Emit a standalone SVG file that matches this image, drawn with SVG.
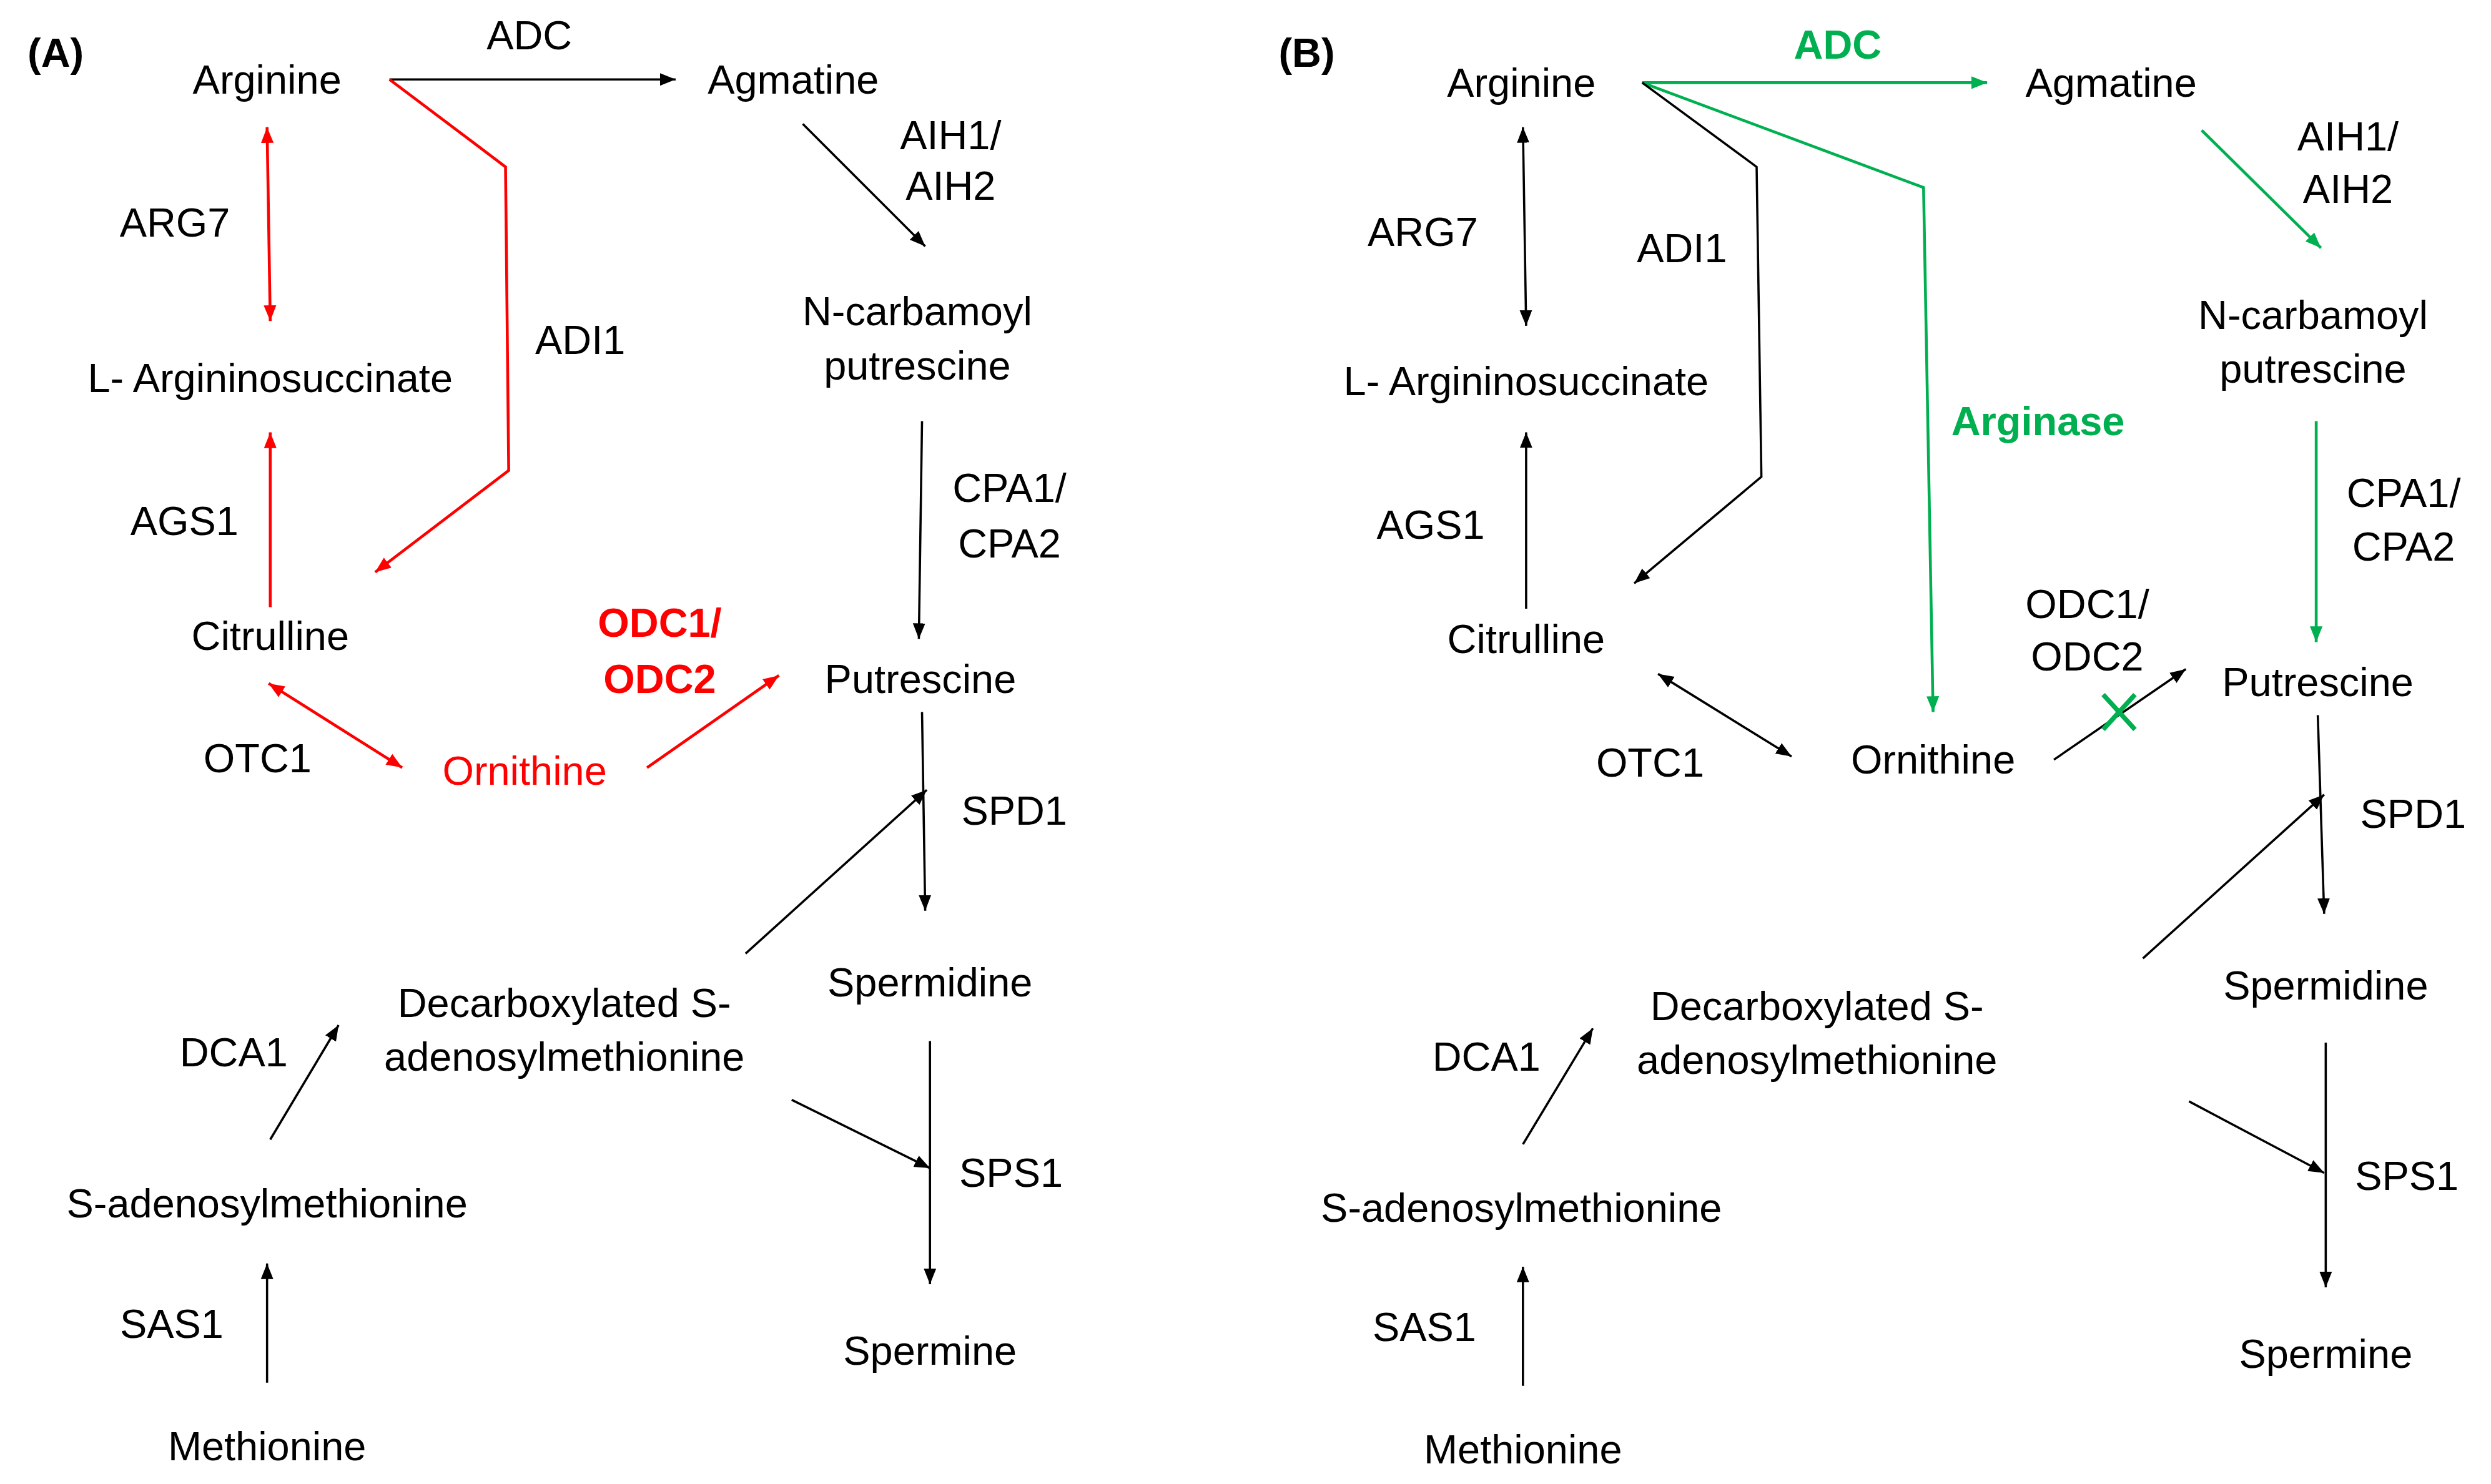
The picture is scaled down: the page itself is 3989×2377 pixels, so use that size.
<svg xmlns="http://www.w3.org/2000/svg" width="3989" height="2377" viewBox="0 0 3989 2377">
<defs>
<style>
text{font-family:"Liberation Sans",Arial,sans-serif;font-size:25.5px;text-anchor:middle;dominant-baseline:central;fill:#000}
.r{fill:#ff0000}.g{fill:#00b050}.b{font-weight:bold}
.l{fill:none;stroke:#000;stroke-width:1.4}
.lr{fill:none;stroke:#ff0000;stroke-width:1.8}
.lg{fill:none;stroke:#00b050;stroke-width:1.8}
</style>
<marker id="ak" viewBox="0 0 10 10" refX="10" refY="5" markerWidth="7" markerHeight="7" orient="auto-start-reverse" markerUnits="strokeWidth"><path d="M0,1L10,5L0,9z" fill="#000"/></marker>
<marker id="ar" viewBox="0 0 10 10" refX="10" refY="5" markerWidth="5.5" markerHeight="5.5" orient="auto-start-reverse" markerUnits="strokeWidth"><path d="M0,1L10,5L0,9z" fill="#ff0000"/></marker>
<marker id="ag" viewBox="0 0 10 10" refX="10" refY="5" markerWidth="5.5" markerHeight="5.5" orient="auto-start-reverse" markerUnits="strokeWidth"><path d="M0,1L10,5L0,9z" fill="#00b050"/></marker>
</defs>
<rect width="3989" height="2377" fill="#fff"/>
<g transform="scale(2.5457)">
<g id="connectors">
<path class="l" d="M245,50H425" marker-end="url(#ak)"/>
<path class="l" d="M505,78L582,155" marker-end="url(#ak)"/>
<path class="l" d="M580,265L578,402" marker-end="url(#ak)"/>
<path class="l" d="M580,448L582,573" marker-end="url(#ak)"/>
<path class="l" d="M585,655V808" marker-end="url(#ak)"/>
<path class="l" d="M469,600L583,497" marker-end="url(#ak)"/>
<path class="l" d="M498,692L585,735" marker-end="url(#ak)"/>
<path class="l" d="M170,717L213,645" marker-end="url(#ak)"/>
<path class="l" d="M168,870V795" marker-end="url(#ak)"/>
<path class="lr" d="M168,80L170,202" marker-start="url(#ar)" marker-end="url(#ar)"/>
<path class="lr" d="M170,382V272" marker-end="url(#ar)"/>
<path class="lr" d="M245,50L318,105L320,296L236,360" marker-end="url(#ar)"/>
<path class="lr" d="M169,430L253,483" marker-start="url(#ar)" marker-end="url(#ar)"/>
<path class="lr" d="M407,483L490,425" marker-end="url(#ar)"/>

<path class="lg" d="M1033,52H1250" marker-end="url(#ag)"/>
<path class="lg" d="M1033,52L1210,118L1216,448" marker-end="url(#ag)"/>
<path class="l" d="M1033,52L1105,105L1108,300L1028,367" marker-end="url(#ak)"/>
<path class="lg" d="M1385,82L1460,156" marker-end="url(#ag)"/>
<path class="lg" d="M1457,265V404" marker-end="url(#ag)"/>
<path class="l" d="M1292,478L1375,421" marker-end="url(#ak)"/>
<path d="M1323,437L1343,459M1343,437L1323,459" stroke="#00b050" stroke-width="3" fill="none"/>
<path class="l" d="M1043,424L1127,476" marker-start="url(#ak)" marker-end="url(#ak)"/>
<path class="l" d="M960,383V272" marker-end="url(#ak)"/>
<path class="l" d="M958,80L960,205" marker-start="url(#ak)" marker-end="url(#ak)"/>
<path class="l" d="M1458,450L1462,575" marker-end="url(#ak)"/>
<path class="l" d="M1348,603L1462,500" marker-end="url(#ak)"/>
<path class="l" d="M1377,693L1462,738" marker-end="url(#ak)"/>
<path class="l" d="M1463,656V810" marker-end="url(#ak)"/>
<path class="l" d="M958,720L1002,647" marker-end="url(#ak)"/>
<path class="l" d="M958,872V797" marker-end="url(#ak)"/>
</g>
<g id="panelA">
<text x="35" y="33" class="b">(A)</text>
<g id="a-arginine"><text x="168" y="50">Arginine</text></g>
<text x="333" y="22">ADC</text>
<g id="a-agmatine"><text x="499" y="50">Agmatine</text></g>
<text x="598" y="85">AIH1/</text><text x="598" y="117">AIH2</text>
<g id="a-ncp"><text x="577" y="196">N-carbamoyl</text><text x="577" y="230">putrescine</text></g>
<text x="635" y="307">CPA1/</text><text x="635" y="342">CPA2</text>
<g id="a-putrescine"><text x="579" y="427">Putrescine</text></g>
<text x="638" y="510">SPD1</text>
<g id="a-spermidine"><text x="585" y="618">Spermidine</text></g>
<text x="636" y="738">SPS1</text>
<g id="a-spermine"><text x="585" y="850">Spermine</text></g>
<g id="a-dsam"><text x="355" y="631">Decarboxylated S-</text><text x="355" y="665">adenosylmethionine</text></g>
<text x="147" y="662">DCA1</text>
<g id="a-sam"><text x="168" y="757">S-adenosylmethionine</text></g>
<text x="108" y="833">SAS1</text>
<g id="a-met"><text x="168" y="910">Methionine</text></g>
<text x="110" y="140">ARG7</text>
<g id="a-als"><text x="170" y="238">L- Argininosuccinate</text></g>
<text x="116" y="328">AGS1</text>
<g id="a-cit"><text x="170" y="400">Citrulline</text></g>
<text x="365" y="214">ADI1</text>
<text x="162" y="477">OTC1</text>
<g id="a-orn"><text x="330" y="485" class="r">Ornithine</text></g>
<text x="415" y="392" class="r b">ODC1/</text><text x="415" y="427" class="r b">ODC2</text>
</g>
<g id="panelB">
<text x="822" y="33" class="b">(B)</text>
<g id="b-arginine"><text x="957" y="52">Arginine</text></g>
<text x="1156" y="28" class="g b">ADC</text>
<g id="b-agmatine"><text x="1328" y="52">Agmatine</text></g>
<text x="1477" y="86">AIH1/</text><text x="1477" y="119">AIH2</text>
<g id="b-ncp"><text x="1455" y="198">N-carbamoyl</text><text x="1455" y="232">putrescine</text></g>
<text x="1512" y="310">CPA1/</text><text x="1512" y="344">CPA2</text>
<g id="b-putrescine"><text x="1458" y="429">Putrescine</text></g>
<text x="1313" y="380">ODC1/</text><text x="1313" y="413">ODC2</text>
<text x="1282" y="265" class="g b">Arginase</text>
<text x="1058" y="156">ADI1</text>
<g id="b-orn"><text x="1216" y="478">Ornithine</text></g>
<text x="1038" y="480">OTC1</text>
<g id="b-cit"><text x="960" y="402">Citrulline</text></g>
<text x="900" y="330">AGS1</text>
<g id="b-als"><text x="960" y="240">L- Argininosuccinate</text></g>
<text x="895" y="146">ARG7</text>
<text x="1518" y="512">SPD1</text>
<g id="b-spermidine"><text x="1463" y="620">Spermidine</text></g>
<g id="b-dsam"><text x="1143" y="633">Decarboxylated S-</text><text x="1143" y="667">adenosylmethionine</text></g>
<text x="1514" y="740">SPS1</text>
<g id="b-spermine"><text x="1463" y="852">Spermine</text></g>
<text x="935" y="665">DCA1</text>
<g id="b-sam"><text x="957" y="760">S-adenosylmethionine</text></g>
<text x="896" y="835">SAS1</text>
<g id="b-met"><text x="958" y="912">Methionine</text></g>
</g>
</g>
</svg>
